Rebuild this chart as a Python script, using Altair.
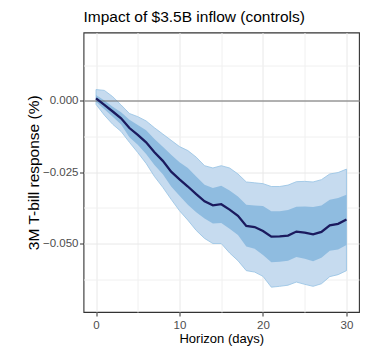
import altair as alt
import pandas as pd

horizon = [0, 1, 2, 3, 4, 5, 6, 7, 8, 9, 10, 11, 12, 13, 14, 15,
           16, 17, 18, 19, 20, 21, 22, 23, 24, 25, 26, 27, 28, 29, 30]

irf = [0.0009, -0.0014, -0.0037, -0.0061, -0.0095, -0.0119, -0.0145, -0.0180,
       -0.0210, -0.0248, -0.0275, -0.0300, -0.0327, -0.0352, -0.0366, -0.0362,
       -0.0381, -0.0403, -0.0438, -0.0442, -0.0456, -0.0476, -0.0475, -0.0472,
       -0.0458, -0.0462, -0.0468, -0.0459, -0.0436, -0.0431, -0.0416]

inner_hi = [0.0021, 0.0002, -0.0020, -0.0040, -0.0066, -0.0084, -0.0103, -0.0133,
            -0.0161, -0.0189, -0.0215, -0.0235, -0.0265, -0.0294, -0.0305, -0.0297,
            -0.0314, -0.0335, -0.0364, -0.0367, -0.0368, -0.0387, -0.0387, -0.0382,
            -0.0371, -0.0370, -0.0372, -0.0367, -0.0346, -0.0340, -0.0329]

inner_lo = [-0.0003, -0.0029, -0.0055, -0.0083, -0.0127, -0.0154, -0.0186, -0.0225,
            -0.0257, -0.0300, -0.0332, -0.0364, -0.0390, -0.0412, -0.0430, -0.0428,
            -0.0448, -0.0470, -0.0510, -0.0518, -0.0540, -0.0566, -0.0564, -0.0560,
            -0.0547, -0.0553, -0.0562, -0.0550, -0.0525, -0.0521, -0.0505]

outer_hi = [0.0040, 0.0037, 0.0015, -0.0014, -0.0044, -0.0055, -0.0070, -0.0094,
            -0.0116, -0.0138, -0.0160, -0.0174, -0.0197, -0.0227, -0.0235, -0.0227,
            -0.0235, -0.0256, -0.0284, -0.0287, -0.0290, -0.0300, -0.0300, -0.0295,
            -0.0283, -0.0282, -0.0284, -0.0276, -0.0256, -0.0251, -0.0239]

outer_lo = [-0.0012, -0.0050, -0.0082, -0.0107, -0.0145, -0.0181, -0.0219, -0.0265,
            -0.0303, -0.0345, -0.0385, -0.0418, -0.0454, -0.0482, -0.0500, -0.0500,
            -0.0533, -0.0560, -0.0595, -0.0600, -0.0615, -0.0653, -0.0650, -0.0646,
            -0.0635, -0.0643, -0.0650, -0.0641, -0.0616, -0.0609, -0.0595]

x_ticks = [0, 5, 10, 15, 20, 25, 30]
y_ticks = [-0.0625, -0.05, -0.0375, -0.025, -0.0125, 0, 0.0125]

df = pd.DataFrame({
    "h": horizon, "irf": irf,
    "ilo": inner_lo, "ihi": inner_hi,
    "olo": outer_lo, "ohi": outer_hi,
})

FONT = "Liberation Sans"

x_axis = alt.Axis(
    values=x_ticks,
    labelExpr="datum.value % 10 == 0 ? datum.label : ''",
    tickColor={"condition": {"test": "datum.value % 10 != 0", "value": "transparent"},
               "value": "#333333"},
    gridColor={"condition": {"test": "datum.value % 10 != 0", "value": "#f0f0f0"},
               "value": "#e8e8e8"},
    title="Horizon (days)",
    titlePadding=1.5,
    labelPadding=3,
)
y_axis = alt.Axis(
    values=y_ticks,
    labelExpr="round(datum.value*1000) % 25 == 0 ? format(datum.value, '.3f') : ''",
    tickColor={"condition": {"test": "round(datum.value*1000) % 25 != 0", "value": "transparent"},
               "value": "#333333"},
    gridColor={"condition": {"test": "round(datum.value*1000) % 25 != 0", "value": "#f0f0f0"},
               "value": "#e8e8e8"},
    title="3M T-bill response (%)",
    titleFontSize=15.5,
    titlePadding=1,
    labelPadding=1.5,
)

xs = alt.Scale(domain=[-1.5, 31.5], nice=False, zero=False)
ys = alt.Scale(domain=[-0.074, 0.024], nice=False, zero=False)

base = alt.Chart(df)

outer = base.mark_area(fill="#c6dbef", stroke="#94c1e3", strokeWidth=0.8).encode(
    x=alt.X("h:Q", scale=xs, axis=x_axis),
    y=alt.Y("olo:Q", scale=ys, axis=y_axis),
    y2="ohi:Q",
)
inner = base.mark_area(fill="#8fbce0").encode(
    x="h:Q", y="ilo:Q", y2="ihi:Q",
)
zero = alt.Chart(pd.DataFrame({"z": [0]})).mark_rule(color="#6e6e6e", strokeWidth=1.1).encode(
    y="z:Q"
)
line = base.mark_line(color="#1b1a5e", strokeWidth=2.3).encode(
    x="h:Q", y="irf:Q",
)

chart = alt.layer(outer, inner, zero, line).properties(
    width=353,
    height=338,
    autosize=alt.AutoSizeParams(type="fit", contains="padding"),
    padding={"left": 18.5, "right": 1, "top": 1.5, "bottom": 1},
    title=alt.TitleParams(
        "Impact of $3.5B inflow (controls)",
        anchor="start", frame="group", fontSize=15.5, fontWeight="normal",
        font=FONT, color="black", offset=7,
    ),
).configure_view(
    stroke="#333333", strokeWidth=1.1
).configure_axis(
    domain=False,
    labelFont=FONT, labelFontSize=11.5, labelColor="#4d4d4d",
    titleFont=FONT, titleFontSize=13, titleColor="black", titleFontWeight="normal",
    tickSize=4, tickWidth=1, gridWidth=1,
)

chart.save("out.html", embed_options={"renderer": "svg", "actions": False})
